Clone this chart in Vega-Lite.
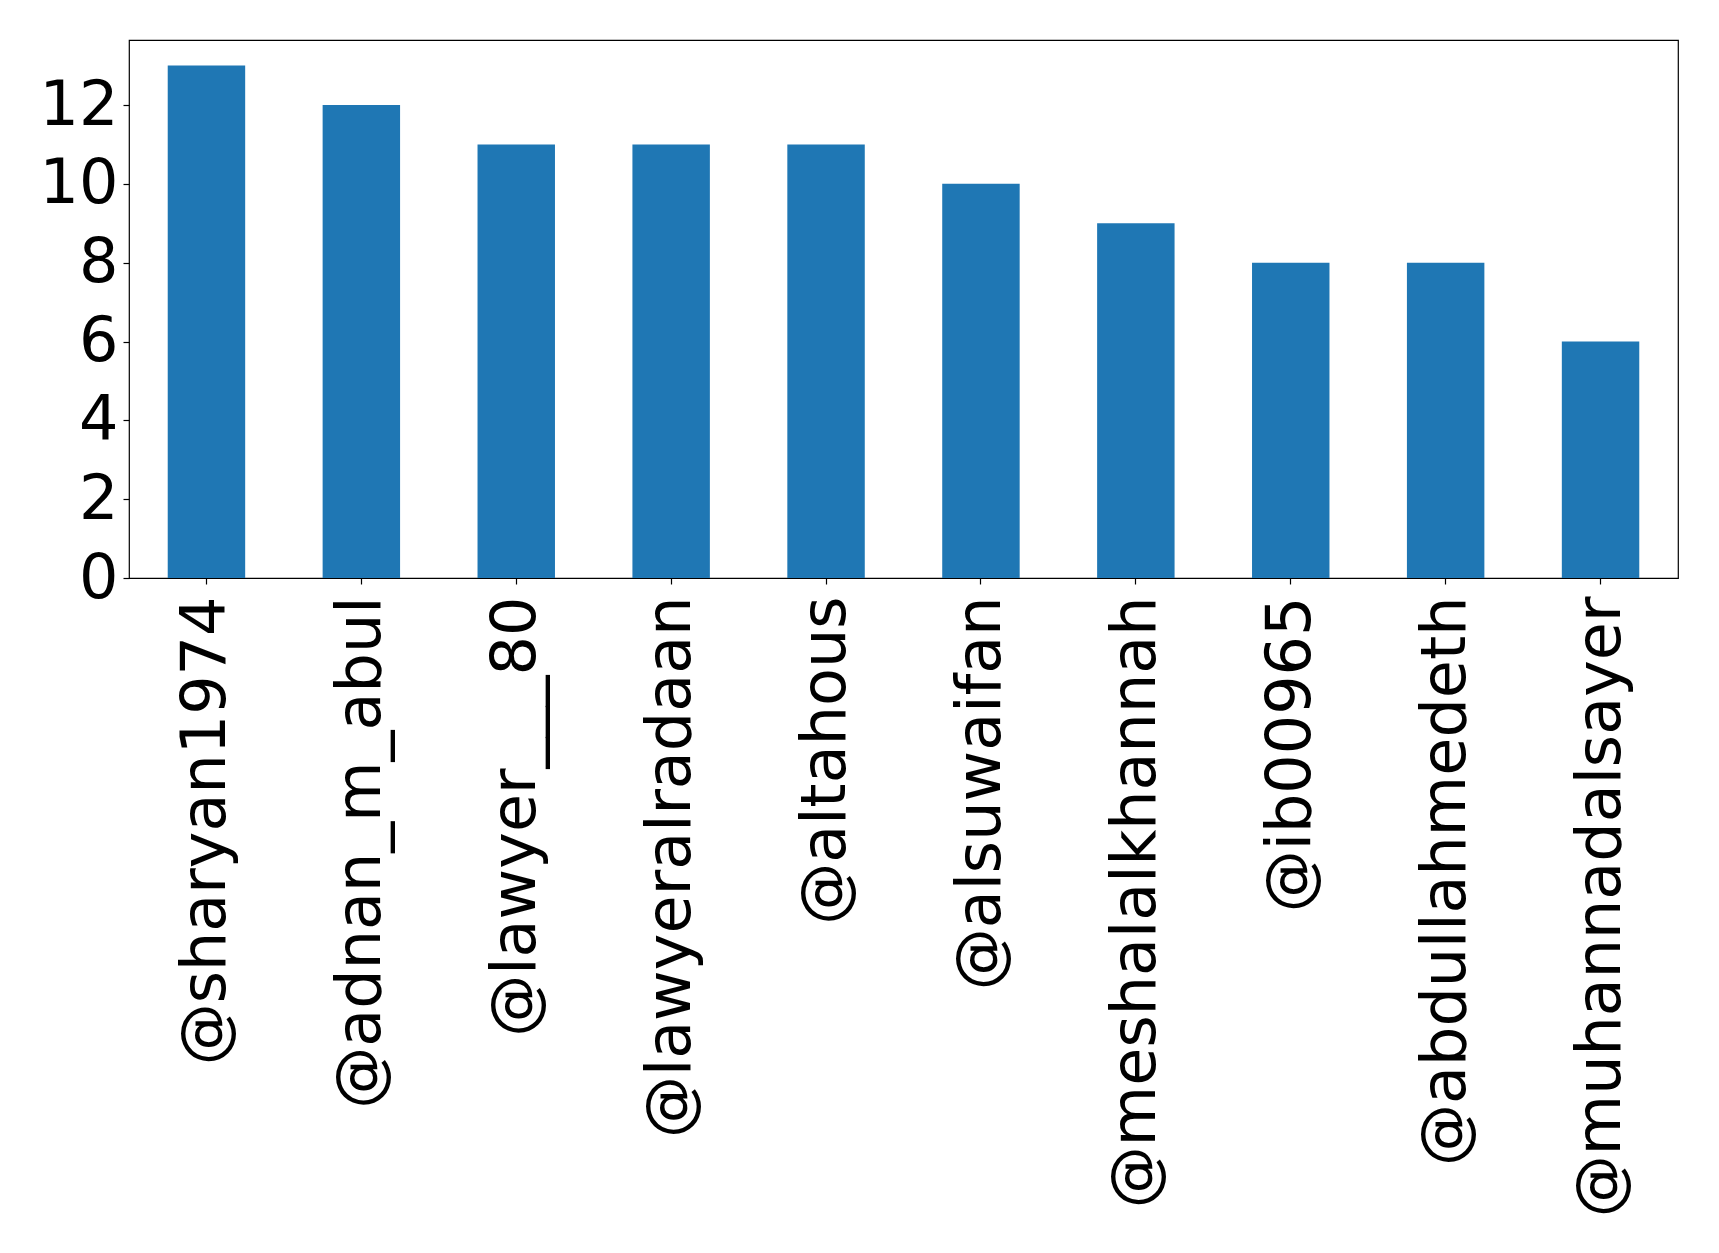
{
  "$schema": "https://vega.github.io/schema/vega-lite/v6.json",
  "width": 1549,
  "height": 538,
  "autosize": {"type": "none"},
  "padding": {"left": 129, "top": 40, "right": 40, "bottom": 675},
  "background": "white",
  "config": {
    "view": {"stroke": "black", "strokeWidth": 1.2},
    "axis": {"grid": false, "domain": false, "labelFont": "DejaVu Sans", "labelColor": "black", "tickColor": "black", "tickWidth": 1.2, "titleFont": "DejaVu Sans"}
  },
  "data": {
    "values": [
      {"user": "@sharyan1974", "count": 13},
      {"user": "@adnan_m_abul", "count": 12},
      {"user": "@lawyer___80", "count": 11},
      {"user": "@lawyeralradaan", "count": 11},
      {"user": "@altahous", "count": 11},
      {"user": "@alsuwaifan", "count": 10},
      {"user": "@meshalalkhannah", "count": 9},
      {"user": "@ib00965", "count": 8},
      {"user": "@abdullahmedeth", "count": 8},
      {"user": "@muhannadalsayer", "count": 6}
    ]
  },
  "mark": {"type": "bar", "color": "#1f77b4"},
  "encoding": {
    "x": {
      "field": "user",
      "type": "nominal",
      "sort": null,
      "scale": {"paddingInner": 0.5, "paddingOuter": 0.25},
      "axis": {"title": null, "labelAngle": 270, "labelFontSize": 62, "labelLimit": 0, "labelOverlap": false, "tickSize": 6, "labelPadding": 12, "labelAlign": "right", "labelBaseline": "middle"}
    },
    "y": {
      "field": "count",
      "type": "quantitative",
      "scale": {"domain": [0, 13.65], "nice": false, "zero": true},
      "axis": {"title": null, "values": [0, 2, 4, 6, 8, 10, 12], "labelFontSize": 62, "tickSize": 6, "labelPadding": 5}
    }
  }
}
